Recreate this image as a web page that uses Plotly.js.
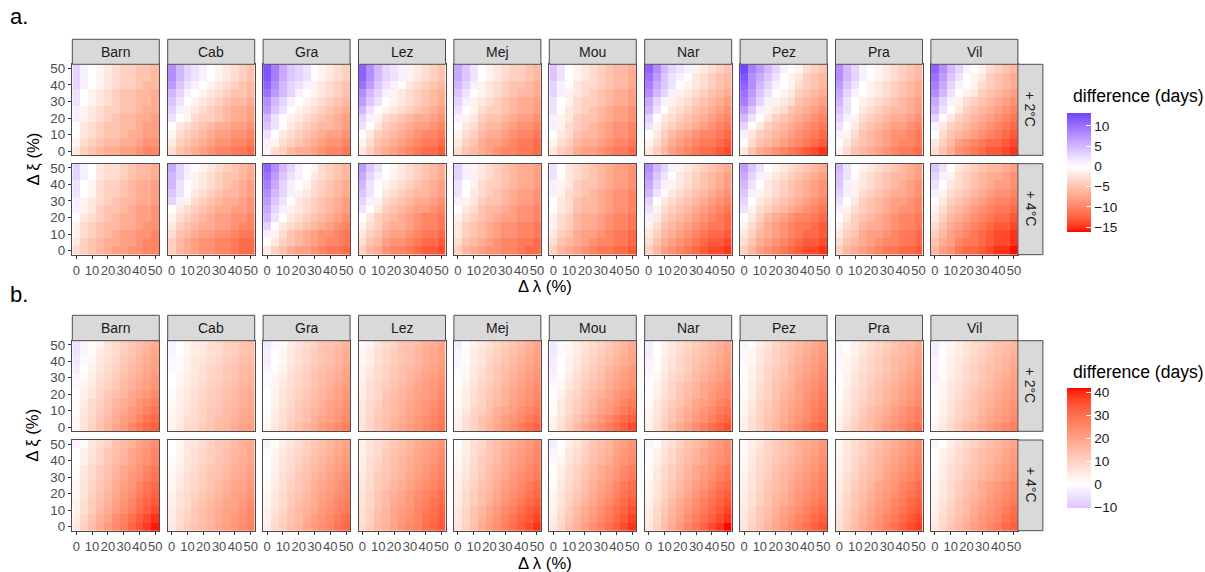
<!DOCTYPE html>
<html>
<head>
<meta charset="utf-8">
<script src="https://cdn.plot.ly/plotly-3.0.1.min.js"></script>
<style>html,body{margin:0;padding:0;background:#fff;}#chart{width:1205px;height:572px;}</style>
</head>
<body>
<div id="chart"></div>
<script>
// ---------------- DATA ----------------
const sites = ['Barn','Cab','Gra','Lez','Mej','Mou','Nar','Pez','Pra','Vil'];
const warming = ['+ 2°C','+ 4°C'];
const lambdaPct = [0,5,10,15,20,25,30,35,40,45,50];
const xiPct = [50,45,40,35,30,25,20,15,10,5,0];   // rows listed top (50) to bottom (0)
const tickVals = [0,10,20,30,40,50];
const tickText = ['0','10','20','30','40','50'];
const legendTicksA = [10,5,0,-5,-10,-15];
const legendTicksB = [40,30,20,10,0,-10];
const rangeA = [-16.2, 13.2];
const rangeB = [-10.4, 42];

// ---- figure a, +2°C ----
const a2Barn = [
[3,1,0,-1,-2,-3,-4,-4,-5,-5,-6],[3,1,0,-1,-2,-3,-4,-4,-5,-5,-6],[3,1,0,-1,-2,-3,-4,-4,-5,-6,-6],
[2,0,-1,-2,-3,-4,-5,-5,-6,-6,-7],[2,0,-1,-2,-3,-4,-5,-5,-6,-6,-7],[1,-1,-2,-3,-4,-4,-5,-5,-6,-7,-7],
[1,-1,-2,-3,-4,-5,-6,-6,-7,-7,-8],[0,-2,-3,-4,-5,-5,-6,-6,-7,-8,-8],[0,-2,-3,-4,-5,-5,-6,-7,-7,-8,-8],
[-1,-3,-4,-5,-6,-6,-7,-7,-8,-9,-9],[-2,-4,-5,-6,-7,-7,-8,-8,-9,-10,-10]];
const a2Cab = [
[8,5,3,2,1,0,-1,-2,-3,-4,-5],[8,5,3,2,1,0,-1,-2,-3,-4,-5],[7,4,2,1,0,-1,-2,-3,-4,-5,-6],
[5,3,1,0,-1,-2,-3,-4,-5,-5,-6],[4,2,0,-1,-2,-3,-4,-5,-6,-6,-7],[3,1,-1,-2,-3,-4,-5,-6,-7,-7,-8],
[2,0,-1,-3,-4,-4,-5,-6,-7,-7,-8],[0,-2,-3,-4,-5,-6,-7,-7,-8,-8,-9],[-1,-3,-4,-5,-6,-7,-8,-8,-9,-9,-10],
[-2,-4,-5,-6,-7,-8,-9,-9,-10,-10,-11],[-3,-5,-6,-7,-8,-9,-10,-10,-11,-11,-12]];
const a2Gra = [
[12,9,6,4,3,2,0,-1,-2,-3,-4],[12,9,6,4,3,2,0,-1,-2,-3,-4],[11,8,5,3,2,1,-1,-2,-3,-4,-5],
[10,7,5,3,1,0,-1,-2,-3,-4,-5],[8,5,3,1,0,-1,-2,-3,-4,-5,-6],[7,4,2,0,-1,-2,-3,-4,-5,-6,-7],
[5,2,0,-1,-2,-3,-4,-5,-6,-7,-8],[4,2,0,-2,-3,-4,-5,-6,-6,-7,-8],[2,0,-2,-3,-4,-5,-6,-7,-8,-8,-9],
[1,-1,-3,-4,-5,-6,-7,-8,-9,-9,-10],[-1,-3,-4,-6,-7,-7,-8,-9,-10,-10,-11]];
const a2Lez = [
[11,8,5,3,2,1,-1,-2,-3,-4,-5],[11,8,5,3,2,1,-1,-2,-3,-4,-5],[10,7,4,2,1,0,-2,-3,-4,-5,-6],
[8,5,3,1,-1,-2,-3,-4,-5,-6,-7],[7,4,2,0,-1,-2,-3,-4,-5,-6,-7],[5,2,0,-1,-2,-3,-4,-5,-6,-7,-8],
[3,1,-1,-3,-4,-5,-6,-7,-7,-8,-9],[2,0,-2,-4,-5,-6,-7,-8,-8,-9,-10],[0,-2,-4,-5,-6,-7,-8,-9,-10,-10,-11],
[-1,-3,-5,-6,-7,-8,-9,-10,-11,-11,-12],[-2,-4,-6,-7,-8,-9,-10,-11,-12,-12,-13]];
const a2Mej = [
[6,4,2,0,-1,-2,-3,-4,-4,-5,-6],[6,4,2,0,-1,-2,-3,-4,-4,-5,-6],[5,3,1,-1,-2,-3,-4,-5,-5,-6,-7],
[4,2,0,-1,-2,-3,-4,-5,-6,-6,-7],[3,1,-1,-2,-3,-4,-5,-6,-7,-7,-8],[2,0,-1,-3,-4,-4,-5,-6,-7,-7,-8],
[1,-1,-2,-4,-5,-5,-6,-7,-8,-8,-9],[0,-2,-3,-5,-6,-6,-7,-8,-9,-9,-10],[-1,-3,-4,-6,-7,-7,-8,-9,-10,-10,-11],
[-2,-4,-5,-7,-8,-8,-9,-10,-11,-11,-12],[-3,-5,-6,-7,-8,-9,-10,-10,-11,-11,-12]];
const a2Mou = [
[4,2,0,-1,-2,-3,-4,-5,-6,-6,-7],[4,2,0,-1,-2,-3,-4,-5,-6,-6,-7],[3,1,0,-2,-3,-3,-4,-5,-6,-6,-7],
[3,1,-1,-2,-3,-4,-5,-6,-7,-7,-8],[2,0,-1,-3,-4,-4,-5,-6,-7,-7,-8],[2,0,-2,-3,-4,-5,-6,-7,-8,-8,-9],
[1,-1,-2,-4,-5,-5,-6,-7,-8,-8,-9],[1,-1,-3,-4,-5,-6,-7,-8,-9,-9,-10],[0,-2,-3,-5,-6,-6,-7,-8,-9,-9,-10],
[-1,-3,-4,-6,-7,-7,-8,-9,-10,-10,-11],[-2,-4,-5,-7,-8,-8,-9,-10,-11,-11,-12]];
const a2Nar = [
[11,8,5,3,2,1,-1,-2,-3,-4,-5],[10,7,4,2,1,0,-2,-3,-4,-5,-6],[9,6,4,2,0,-1,-2,-3,-4,-5,-6],
[8,5,3,1,-1,-2,-3,-4,-5,-6,-7],[6,3,1,-1,-2,-3,-4,-5,-6,-7,-8],[5,2,0,-2,-3,-4,-5,-6,-7,-8,-9],
[3,0,-2,-3,-4,-5,-6,-7,-8,-9,-10],[2,-1,-3,-4,-5,-6,-7,-8,-9,-10,-11],[0,-2,-4,-6,-7,-8,-9,-10,-10,-11,-12],
[-1,-3,-5,-7,-8,-9,-10,-11,-11,-12,-13],[-2,-4,-6,-8,-9,-10,-11,-12,-12,-13,-14]];
const a2Pez = [
[13,9,7,5,3,1,0,-1,-3,-4,-5],[12,8,6,4,2,0,-1,-2,-4,-5,-6],[11,8,5,3,1,0,-1,-3,-4,-5,-6],
[10,7,4,2,0,-1,-2,-4,-5,-6,-7],[9,6,3,1,-1,-2,-3,-5,-6,-7,-8],[7,4,1,-1,-2,-3,-5,-6,-7,-8,-9],
[5,2,0,-2,-4,-5,-6,-7,-8,-9,-10],[3,0,-2,-4,-5,-6,-7,-8,-9,-10,-11],[1,-2,-4,-5,-6,-7,-8,-9,-10,-11,-12],
[0,-3,-5,-6,-7,-8,-9,-10,-11,-12,-13],[-2,-5,-7,-8,-9,-10,-11,-12,-13,-14,-15]];
const a2Pra = [
[8,5,3,1,0,-1,-2,-3,-4,-5,-6],[8,5,3,1,0,-1,-2,-3,-4,-5,-6],[7,4,2,0,-1,-2,-3,-4,-5,-6,-7],
[6,3,1,0,-1,-2,-3,-4,-5,-6,-7],[5,2,0,-1,-2,-3,-4,-5,-6,-7,-8],[4,2,0,-2,-3,-4,-5,-6,-6,-7,-8],
[3,1,-1,-3,-4,-5,-6,-7,-7,-8,-9],[2,0,-2,-4,-5,-6,-7,-8,-8,-9,-10],[1,-1,-3,-5,-6,-7,-8,-9,-9,-10,-11],
[0,-2,-4,-5,-6,-7,-8,-9,-10,-10,-11],[-1,-3,-5,-6,-7,-8,-9,-10,-11,-11,-12]];
const a2Vil = [
[11,8,5,3,1,0,-1,-3,-4,-5,-6],[10,7,4,2,0,-1,-2,-4,-5,-6,-7],[9,6,3,1,0,-1,-3,-4,-5,-6,-7],
[8,5,2,0,-1,-2,-4,-5,-6,-7,-8],[6,3,1,-1,-3,-4,-5,-6,-7,-8,-9],[5,2,0,-2,-4,-5,-6,-7,-8,-9,-10],
[3,0,-2,-4,-5,-6,-7,-8,-9,-10,-11],[1,-2,-4,-5,-6,-7,-8,-9,-10,-11,-12],[0,-3,-5,-6,-7,-8,-9,-10,-11,-12,-13],
[-2,-4,-6,-8,-9,-10,-11,-12,-12,-13,-14],[-3,-5,-7,-9,-10,-11,-12,-13,-13,-14,-15]];

// ---- figure a, +4°C ----
const a4Barn = [
[3,1,0,-2,-3,-3,-4,-5,-6,-6,-7],[3,1,0,-2,-3,-3,-4,-5,-6,-6,-7],[2,0,-1,-3,-4,-4,-5,-6,-7,-7,-8],
[2,0,-1,-3,-4,-4,-5,-6,-7,-7,-8],[1,-1,-2,-3,-4,-5,-6,-6,-7,-7,-8],[1,-1,-2,-4,-5,-5,-6,-7,-8,-8,-9],
[0,-2,-3,-4,-5,-6,-7,-7,-8,-8,-9],[-1,-3,-4,-5,-6,-6,-7,-7,-8,-9,-9],[-1,-3,-4,-5,-6,-7,-8,-8,-9,-9,-10],
[-2,-4,-5,-6,-7,-7,-8,-8,-9,-10,-10],[-3,-4,-5,-6,-7,-8,-8,-9,-9,-10,-10]];
const a4Cab = [
[6,3,1,0,-1,-2,-3,-4,-5,-6,-7],[5,3,1,-1,-2,-3,-4,-5,-5,-6,-7],[5,2,0,-1,-2,-3,-4,-5,-6,-7,-8],
[4,2,0,-2,-3,-4,-5,-6,-6,-7,-8],[3,1,-1,-3,-4,-5,-6,-7,-7,-8,-9],[0,-2,-3,-4,-5,-6,-7,-7,-8,-8,-9],
[-1,-3,-4,-5,-6,-7,-8,-8,-9,-9,-10],[-2,-4,-5,-6,-7,-7,-8,-8,-9,-10,-10],[-3,-5,-6,-7,-8,-8,-9,-9,-10,-11,-11],
[-4,-6,-7,-8,-9,-9,-10,-10,-11,-12,-12],[-4,-6,-7,-8,-9,-9,-10,-10,-11,-12,-12]];
const a4Gra = [
[11,8,5,3,1,0,-1,-3,-4,-5,-6],[10,7,4,2,1,0,-2,-3,-4,-5,-6],[9,6,3,1,0,-1,-3,-4,-5,-6,-7],
[8,5,3,1,-1,-2,-3,-4,-5,-6,-7],[7,4,2,0,-2,-3,-4,-5,-6,-7,-8],[6,3,1,-1,-2,-3,-4,-5,-6,-7,-8],
[5,2,0,-2,-3,-4,-5,-6,-7,-8,-9],[3,0,-2,-3,-4,-5,-6,-7,-8,-9,-10],[1,-1,-3,-5,-6,-7,-8,-9,-9,-10,-11],
[0,-2,-4,-5,-6,-7,-8,-9,-10,-10,-11],[-2,-4,-5,-7,-8,-8,-9,-10,-11,-11,-12]];
const a4Lez = [
[7,4,2,0,-1,-2,-3,-4,-5,-6,-7],[6,3,1,0,-1,-2,-3,-4,-5,-6,-7],[5,2,0,-1,-2,-3,-4,-5,-6,-7,-8],
[4,2,0,-2,-3,-4,-5,-6,-6,-7,-8],[3,1,-1,-3,-4,-5,-6,-7,-7,-8,-9],[2,0,-2,-4,-5,-6,-7,-8,-8,-9,-10],
[0,-2,-4,-5,-6,-7,-8,-9,-10,-10,-11],[-1,-3,-4,-6,-7,-7,-8,-9,-10,-10,-11],[-2,-4,-5,-7,-8,-8,-9,-10,-11,-11,-12],
[-3,-5,-6,-8,-9,-9,-10,-11,-12,-12,-13],[-4,-6,-7,-9,-10,-10,-11,-12,-13,-13,-14]];
const a4Mej = [
[3,1,-1,-2,-3,-4,-5,-6,-7,-7,-8],[3,1,-1,-2,-3,-4,-5,-6,-7,-7,-8],[2,0,-1,-3,-4,-4,-5,-6,-7,-7,-8],
[2,0,-2,-3,-4,-5,-6,-7,-8,-8,-9],[1,-1,-2,-4,-5,-5,-6,-7,-8,-8,-9],[0,-2,-3,-5,-6,-6,-7,-8,-9,-9,-10],
[-1,-3,-4,-5,-6,-7,-8,-8,-9,-9,-10],[-2,-4,-5,-6,-7,-8,-9,-9,-10,-10,-11],[-2,-4,-5,-6,-7,-8,-9,-9,-10,-10,-11],
[-3,-5,-6,-7,-8,-9,-10,-10,-11,-11,-12],[-4,-6,-7,-8,-9,-9,-10,-10,-11,-12,-12]];
const a4Mou = [
[2,0,-2,-3,-4,-5,-6,-7,-8,-8,-9],[2,0,-2,-3,-4,-5,-6,-7,-8,-8,-9],[1,-1,-2,-4,-5,-5,-6,-7,-8,-8,-9],
[1,-1,-3,-4,-5,-6,-7,-8,-9,-9,-10],[0,-2,-3,-5,-6,-6,-7,-8,-9,-9,-10],[0,-2,-3,-5,-6,-6,-7,-8,-9,-9,-10],
[-1,-3,-4,-6,-7,-7,-8,-9,-10,-10,-11],[-1,-3,-4,-6,-7,-7,-8,-9,-10,-10,-11],[-2,-4,-5,-7,-8,-8,-9,-10,-11,-11,-12],
[-3,-5,-6,-7,-8,-9,-10,-10,-11,-11,-12],[-4,-6,-7,-8,-9,-10,-11,-11,-12,-12,-13]];
const a4Nar = [
[8,5,3,1,-1,-2,-3,-4,-5,-6,-7],[7,4,2,0,-2,-3,-4,-5,-6,-7,-8],[6,3,1,-1,-2,-3,-4,-5,-6,-7,-8],
[5,2,0,-2,-3,-4,-5,-6,-7,-8,-9],[3,0,-2,-3,-4,-5,-6,-7,-8,-9,-10],[2,-1,-3,-4,-5,-6,-7,-8,-9,-10,-11],
[1,-2,-4,-5,-6,-7,-8,-9,-10,-11,-12],[-1,-3,-5,-6,-7,-8,-9,-10,-11,-11,-12],[-2,-4,-6,-7,-8,-9,-10,-11,-12,-12,-13],
[-3,-5,-7,-8,-9,-10,-11,-12,-13,-13,-14],[-4,-6,-8,-9,-10,-11,-12,-13,-14,-14,-15]];
const a4Pez = [
[7,4,2,0,-1,-2,-3,-4,-5,-6,-7],[6,3,1,-1,-2,-3,-4,-5,-6,-7,-8],[5,2,0,-2,-3,-4,-5,-6,-7,-8,-9],
[4,1,-1,-2,-3,-4,-5,-6,-7,-8,-9],[3,0,-2,-3,-4,-5,-6,-7,-8,-9,-10],[2,-1,-3,-4,-5,-6,-7,-8,-9,-10,-11],
[0,-2,-4,-6,-7,-8,-9,-10,-10,-11,-12],[-1,-3,-5,-7,-8,-9,-10,-11,-11,-12,-13],[-2,-4,-6,-7,-8,-9,-10,-11,-12,-12,-13],
[-3,-5,-7,-8,-9,-10,-11,-12,-13,-13,-14],[-4,-6,-8,-9,-10,-11,-12,-13,-14,-14,-15]];
const a4Pra = [
[5,2,0,-1,-2,-3,-4,-5,-6,-7,-8],[4,2,0,-2,-3,-4,-5,-6,-6,-7,-8],[4,1,-1,-2,-3,-4,-5,-6,-7,-8,-9],
[3,1,-1,-3,-4,-5,-6,-7,-7,-8,-9],[2,0,-2,-4,-5,-6,-7,-8,-8,-9,-10],[1,-1,-3,-4,-5,-6,-7,-8,-9,-9,-10],
[0,-2,-4,-5,-6,-7,-8,-9,-10,-10,-11],[-1,-3,-4,-6,-7,-7,-8,-9,-10,-10,-11],[-2,-4,-5,-7,-8,-8,-9,-10,-11,-11,-12],
[-3,-5,-6,-7,-8,-9,-10,-10,-11,-11,-12],[-4,-6,-7,-8,-9,-10,-11,-11,-12,-12,-13]];
const a4Vil = [
[4,2,0,-2,-3,-4,-5,-6,-6,-7,-8],[3,1,-1,-3,-4,-5,-6,-7,-7,-8,-9],[2,0,-2,-3,-4,-5,-6,-7,-8,-8,-9],
[1,-1,-3,-4,-5,-6,-7,-8,-9,-9,-10],[0,-2,-4,-5,-6,-7,-8,-9,-10,-10,-11],[-1,-3,-5,-6,-7,-8,-9,-10,-11,-11,-12],
[-2,-4,-6,-7,-8,-9,-10,-11,-12,-12,-13],[-3,-5,-7,-8,-9,-10,-11,-12,-13,-13,-14],[-4,-6,-8,-9,-10,-11,-12,-13,-14,-14,-15],
[-5,-7,-8,-10,-11,-11,-12,-13,-14,-14,-15],[-6,-8,-9,-11,-12,-12,-13,-14,-15,-15,-16]];

// ---- figure b, +2°C ----
const b2Barn = [
[-5,-2,1,3,6,8,10,12,14,16,18],[-5,-2,1,4,6,8,11,13,15,17,19],[-4,-1,2,5,7,9,12,14,16,18,20],
[-3,0,3,6,8,10,13,15,17,19,21],[-2,1,4,7,9,11,14,16,18,20,22],[-1,2,5,8,10,12,15,17,19,21,23],
[0,3,6,9,12,14,16,19,21,23,25],[1,4,8,10,13,16,18,20,23,25,27],[1,5,8,11,14,17,19,22,24,27,29],
[2,6,9,12,15,18,21,23,26,29,31],[2,6,10,13,16,19,22,25,28,31,33]];
const b2Cab = [
[-2,0,2,4,5,7,8,10,11,13,14],[-2,0,2,4,5,7,8,10,11,13,14],[-1,1,3,5,6,8,9,11,12,14,15],
[-1,1,3,5,7,9,10,12,13,15,16],[0,2,4,6,7,9,10,12,13,15,16],[0,2,4,6,8,10,11,13,14,16,17],
[1,3,5,7,9,11,12,14,15,17,18],[1,3,5,7,9,11,12,14,15,17,18],[2,4,6,8,10,12,13,15,16,18,19],
[2,4,7,8,10,12,14,15,17,19,20],[3,5,8,9,11,13,15,16,18,20,21]];
const b2Gra = [
[-4,-1,1,4,6,8,10,12,13,15,17],[-3,0,2,5,7,9,11,13,14,16,18],[-3,0,2,5,7,9,11,13,14,16,18],
[-2,1,3,6,8,10,12,14,15,17,19],[-1,2,4,7,9,11,13,15,16,18,20],[-1,2,5,7,9,11,13,15,17,19,21],
[0,3,6,8,10,12,14,16,18,20,22],[0,3,6,8,11,13,15,17,19,21,23],[1,4,7,9,12,14,16,18,20,22,24],
[1,4,7,10,12,14,17,19,21,23,25],[2,5,8,11,14,16,18,21,23,25,27]];
const b2Lez = [
[1,3,6,8,10,12,13,15,17,18,20],[2,4,7,9,11,13,14,16,18,19,21],[2,4,7,9,11,13,14,16,18,19,21],
[3,5,8,10,12,14,15,17,19,20,22],[3,6,8,10,12,14,16,18,20,21,23],[4,7,9,11,13,15,17,19,21,22,24],
[4,7,9,12,14,16,18,20,21,23,25],[5,8,10,13,15,17,19,21,22,24,26],[5,8,11,13,15,17,19,21,23,25,27],
[6,9,12,14,16,18,20,22,24,26,28],[6,9,12,14,17,19,21,23,25,27,29]];
const b2Mej = [
[-3,0,3,5,7,9,11,13,15,17,19],[-2,1,4,6,8,10,12,14,16,18,20],[-2,1,4,6,9,11,13,15,17,19,21],
[-1,2,5,7,10,12,14,16,18,20,22],[-1,2,5,8,10,12,15,17,19,21,23],[0,3,6,9,11,13,16,18,20,22,24],
[1,4,7,10,12,14,17,19,21,23,25],[1,4,7,10,13,15,17,20,22,24,26],[2,5,9,11,14,17,19,21,24,26,28],
[3,7,10,13,15,18,21,23,25,28,30],[3,7,10,13,16,19,22,24,27,30,32]];
const b2Mou = [
[-4,-1,2,4,6,8,10,12,14,16,18],[-4,-1,2,4,7,9,11,13,15,17,19],[-3,0,3,5,8,10,12,14,16,18,20],
[-3,0,3,6,9,11,13,16,18,20,22],[-2,1,4,7,10,12,14,17,19,21,23],[-1,2,5,8,11,13,15,18,20,22,24],
[0,3,7,9,12,15,17,19,22,24,26],[1,5,8,11,13,16,19,21,23,26,28],[1,5,8,11,14,17,20,22,25,28,30],
[2,6,10,13,16,19,22,25,28,31,33],[3,7,11,15,18,21,24,27,30,33,36]];
const b2Nar = [
[-3,0,3,5,7,9,11,13,15,17,19],[-3,0,3,5,8,10,12,14,16,18,20],[-2,1,4,6,9,11,13,15,17,19,21],
[-2,1,4,7,9,11,14,16,18,20,22],[-1,2,5,8,10,12,15,17,19,21,23],[0,3,6,9,12,14,16,19,21,23,25],
[0,3,7,9,12,15,17,19,22,24,26],[1,5,8,11,13,16,19,21,23,26,28],[2,6,9,12,15,18,20,23,25,28,30],
[2,6,10,13,16,19,22,24,27,30,32],[3,7,11,15,18,21,24,27,30,32,35]];
const b2Pez = [
[-2,1,4,6,9,11,13,15,17,19,21],[-1,2,5,7,10,12,14,16,18,20,22],[-1,2,5,8,10,12,15,17,19,21,23],
[0,3,6,9,11,13,16,18,20,22,24],[0,3,6,9,12,14,16,19,21,23,25],[1,4,7,10,13,15,17,20,22,24,26],
[1,4,8,10,13,16,18,20,23,25,27],[2,5,9,11,14,17,19,21,24,26,28],[2,6,9,12,14,17,20,22,24,27,29],
[3,7,10,13,15,18,21,23,25,28,30],[3,7,10,13,16,19,22,24,27,30,32]];
const b2Pra = [
[-2,1,3,5,7,9,11,13,15,16,18],[-2,1,3,6,8,10,12,14,15,17,19],[-1,2,4,7,9,11,13,15,16,18,20],
[-1,2,5,7,9,11,13,15,17,19,21],[0,3,6,8,10,12,14,16,18,20,22],[0,3,6,8,11,13,15,17,19,21,23],
[1,4,7,9,12,14,16,18,20,22,24],[1,4,7,10,12,14,17,19,21,23,25],[2,5,8,11,14,16,18,21,23,25,27],
[3,6,9,12,15,17,19,22,24,26,28],[3,7,10,13,15,18,21,23,25,28,30]];
const b2Vil = [
[-3,-1,2,4,6,8,9,11,13,14,16],[-3,0,2,4,6,8,10,12,14,15,17],[-2,1,3,5,7,9,11,13,15,16,18],
[-2,1,3,6,8,10,12,14,15,17,19],[-2,1,4,6,8,10,12,14,16,18,20],[-1,2,5,7,9,11,13,15,17,19,21],
[-1,2,5,7,10,12,14,16,18,20,22],[0,3,6,8,11,13,15,17,19,21,23],[0,3,6,9,11,13,16,18,20,22,24],
[1,4,7,10,12,14,17,19,21,23,25],[2,5,8,11,14,16,18,21,23,25,27]];

// ---- figure b, +4°C ----
const b4Barn = [
[-2,1,5,7,10,13,15,17,20,22,24],[0,3,6,9,12,14,16,19,21,23,25],[0,3,7,9,12,15,17,19,22,24,26],
[1,5,8,11,13,16,19,21,23,26,28],[1,5,8,11,14,17,19,22,24,27,29],[2,6,9,12,15,18,21,23,26,29,31],
[2,6,10,13,16,19,22,24,27,30,32],[3,7,11,14,17,20,23,26,29,32,34],[3,7,11,15,18,21,24,27,30,33,36],
[4,9,13,17,20,24,27,30,33,36,39],[5,10,14,18,22,25,28,32,35,38,41]];
const b4Cab = [
[0,2,5,6,8,10,12,13,15,17,18],[0,2,5,7,9,11,12,14,16,17,19],[1,3,6,7,9,11,13,14,16,18,19],
[1,3,6,8,10,12,13,15,17,18,20],[2,4,7,9,11,13,14,16,18,19,21],[2,5,7,9,11,13,15,17,19,20,22],
[3,6,8,10,12,14,16,18,20,21,23],[3,6,8,11,13,15,17,19,20,22,24],[4,7,9,12,14,16,18,20,21,23,25],
[4,7,10,12,14,16,18,20,22,24,26],[5,8,11,13,15,17,19,21,23,25,27]];
const b4Gra = [
[-2,1,4,6,8,10,12,14,16,18,20],[-1,2,5,7,9,11,13,15,17,19,21],[0,3,6,8,10,12,14,16,18,20,22],
[0,3,6,8,11,13,15,17,19,21,23],[1,4,7,9,12,14,16,18,20,22,24],[1,4,7,10,12,14,17,19,21,23,25],
[2,5,8,11,13,15,18,20,22,24,26],[2,5,8,11,14,16,18,21,23,25,27],[3,6,9,12,15,17,19,22,24,26,28],
[3,7,10,13,15,18,21,23,25,28,30],[4,8,11,14,16,19,22,24,26,29,31]];
const b4Lez = [
[3,6,8,10,12,14,16,18,20,21,23],[3,6,8,11,13,15,17,19,20,22,24],[4,7,9,12,14,16,18,20,21,23,25],
[4,7,10,12,14,16,18,20,22,24,26],[5,8,11,13,15,17,19,21,23,25,27],[5,8,11,13,16,18,20,22,24,26,28],
[6,9,12,15,17,19,22,24,26,28,30],[6,9,12,15,18,20,22,25,27,29,31],[7,10,13,16,19,21,23,26,28,30,32],
[7,10,14,16,19,22,24,26,29,31,33],[8,11,15,17,20,23,25,27,30,32,34]];
const b4Mej = [
[1,4,7,9,12,14,16,18,20,22,24],[1,4,7,10,12,14,17,19,21,23,25],[2,5,8,11,13,15,18,20,22,24,26],
[2,5,8,11,14,16,18,21,23,25,27],[3,6,9,12,15,17,19,22,24,26,28],[3,7,10,13,15,18,21,23,25,28,30],
[4,8,11,14,16,19,22,24,26,29,31],[4,8,11,14,17,20,23,25,28,31,33],[5,9,13,16,19,22,25,27,30,33,35],
[5,9,13,17,20,23,26,29,32,34,37],[6,10,14,18,21,24,27,30,33,36,39]];
const b4Mou = [
[-3,0,4,6,9,12,14,16,19,21,23],[-2,1,5,7,10,13,15,17,20,22,24],[-1,2,6,8,11,14,16,18,21,23,25],
[0,4,7,10,12,15,18,20,22,25,27],[0,4,7,10,13,16,18,21,23,26,28],[1,5,8,11,14,17,20,22,25,28,30],
[2,6,9,12,15,18,21,23,26,29,31],[2,6,10,13,16,19,22,25,28,31,33],[3,7,11,15,18,21,24,27,30,32,35],
[4,8,12,16,19,22,25,28,31,34,37],[5,9,14,17,21,24,27,30,33,36,39]];
const b4Nar = [
[-2,1,5,7,10,13,15,17,20,22,24],[0,3,6,9,12,14,16,19,21,23,25],[0,3,7,9,12,15,17,19,22,24,26],
[1,5,8,11,13,16,19,21,23,26,28],[1,5,8,11,14,17,19,22,24,27,29],[2,6,9,12,15,18,21,23,26,29,31],
[2,6,10,13,16,19,22,25,28,31,33],[3,7,11,15,18,21,24,27,30,32,35],[4,8,12,16,19,22,25,28,31,34,37],
[4,9,13,17,20,24,27,30,33,36,39],[5,10,14,18,22,26,29,32,36,39,42]];
const b4Pez = [
[1,4,6,9,11,13,15,17,18,20,22],[1,4,7,9,11,13,15,17,19,21,23],[2,5,8,10,12,14,16,18,20,22,24],
[2,5,8,10,13,15,17,19,21,23,25],[3,6,9,11,14,16,18,20,22,24,26],[3,6,9,12,14,16,19,21,23,25,27],
[4,7,10,13,15,17,20,22,24,26,28],[4,7,10,13,16,18,20,23,25,27,29],[5,8,12,14,17,20,22,24,27,29,31],
[5,9,12,15,18,21,23,26,28,31,33],[6,10,13,16,19,22,25,27,30,33,35]];
const b4Pra = [
[2,5,8,10,12,14,16,18,20,22,24],[2,5,8,10,13,15,17,19,21,23,25],[3,6,9,11,14,16,18,20,22,24,26],
[3,6,9,12,14,16,19,21,23,25,27],[4,7,10,13,15,17,20,22,24,26,28],[4,7,11,13,16,19,21,23,26,28,30],
[5,8,12,14,17,20,22,24,27,29,31],[5,9,12,15,18,21,23,26,28,31,33],[6,10,13,16,19,22,24,27,29,32,34],
[6,10,14,17,20,23,26,28,31,34,36],[7,11,15,18,21,24,27,30,33,36,38]];
const b4Vil = [
[-2,1,4,6,8,10,12,14,16,18,20],[0,3,5,8,10,12,14,16,17,19,21],[0,3,6,8,10,12,14,16,18,20,22],
[1,4,7,9,11,13,15,17,19,21,23],[1,4,7,9,12,14,16,18,20,22,24],[2,5,8,11,13,15,18,20,22,24,26],
[2,5,8,11,14,16,18,21,23,25,27],[3,6,9,12,15,17,19,22,24,26,28],[3,7,10,13,15,18,21,23,25,28,30],
[4,8,11,14,16,19,22,24,26,29,31],[5,9,12,15,18,21,23,26,28,31,33]];

const figA = [[a2Barn,a2Cab,a2Gra,a2Lez,a2Mej,a2Mou,a2Nar,a2Pez,a2Pra,a2Vil],
              [a4Barn,a4Cab,a4Gra,a4Lez,a4Mej,a4Mou,a4Nar,a4Pez,a4Pra,a4Vil]];
const figB = [[b2Barn,b2Cab,b2Gra,b2Lez,b2Mej,b2Mou,b2Nar,b2Pez,b2Pra,b2Vil],
              [b4Barn,b4Cab,b4Gra,b4Lez,b4Mej,b4Mou,b4Nar,b4Pez,b4Pra,b4Vil]];

// ---------------- COLOUR (ggplot scale_fill_gradient2, Lab interpolation) ----------------
function s2l(c){c/=255;return c<=0.04045?c/12.92:Math.pow((c+0.055)/1.055,2.4);}
function l2s(c){c=Math.max(0,Math.min(1,c));return c<=0.0031308?12.92*c:1.055*Math.pow(c,1/2.4)-0.055;}
function toLab(rgb){
  const R=s2l(rgb[0]),G=s2l(rgb[1]),B=s2l(rgb[2]);
  const X=(0.4124*R+0.3576*G+0.1805*B)/0.95047,Y=(0.2126*R+0.7152*G+0.0722*B),Z=(0.0193*R+0.1192*G+0.9505*B)/1.08883;
  const f=t=>t>0.008856?Math.cbrt(t):7.787*t+16/116;
  const fx=f(X),fy=f(Y),fz=f(Z);
  return [116*fy-16,500*(fx-fy),200*(fy-fz)];
}
function fromLab(lab){
  const fy=(lab[0]+16)/116,fx=fy+lab[1]/500,fz=fy-lab[2]/200;
  const fi=t=>t*t*t>0.008856?t*t*t:(t-16/116)/7.787;
  const X=fi(fx)*0.95047,Y=fi(fy),Z=fi(fz)*1.08883;
  const R=3.2406*X-1.5372*Y-0.4986*Z,G=-0.9689*X+1.8758*Y+0.0415*Z,B=0.0557*X-0.2040*Y+1.0570*Z;
  return 'rgb('+[R,G,B].map(v=>Math.round(l2s(v)*255)).join(',')+')';
}
function makeScale(low,high,lo,hi){
  const L=toLab(low),M=toLab([255,255,255]),Hh=toLab(high);
  const m=Math.max(Math.abs(lo),Math.abs(hi));
  const out=[];
  for(let i=0;i<=40;i++){
    const p=i/40, v=lo+p*(hi-lo), t=0.5+v/(2*m);
    let a,b,u;
    if(t<0.5){a=L;b=M;u=t/0.5;} else {a=M;b=Hh;u=(t-0.5)/0.5;}
    out.push([p,fromLab([a[0]+(b[0]-a[0])*u,a[1]+(b[1]-a[1])*u,a[2]+(b[2]-a[2])*u])]);
  }
  return out;
}
const RED=[255,0,0], BLUE=[0,0,255];

// ---------------- LAYOUT GEOMETRY ----------------
const W=1205,H=572;
const X=v=>v/W, Y=v=>1-v/H;
const FONT='Liberation Sans, Arial, Helvetica, sans-serif';
const colL=i=>72.3+95.4*i, PW=87;
const figs=[
  {data:figA, ca:'coloraxis', stripTop:39.3, rows:[[64.3,155.3],[163.7,254.7]], label:'a.', labelY:17, xtitleY:286.5},
  {data:figB, ca:'coloraxis2', stripTop:315.3, rows:[[340.7,431.3],[440,530.7]], label:'b.', labelY:294, xtitleY:563}
];
const traces=[], shapes=[], annotations=[];
const layout={width:W,height:H,margin:{l:0,r:0,t:0,b:0,autoexpand:false},paper_bgcolor:'#fff',plot_bgcolor:'#fff',
  font:{family:FONT,color:'#1a1a1a'},showlegend:false};
let n=0;
figs.forEach((f,fi)=>{
  f.rows.forEach((r,ri)=>{
    sites.forEach((s,ci)=>{
      n++;
      const sx=n===1?'':String(n);
      const x0=colL(ci), x1=x0+PW;
      traces.push({type:'heatmap',x:lambdaPct,y:xiPct,z:f.data[ri][ci],coloraxis:f.ca,
        xaxis:'x'+sx,yaxis:'y'+sx,hoverinfo:'skip',zsmooth:false});
      const bottom=ri===1, left=ci===0;
      layout['xaxis'+sx]={domain:[X(x0),X(x1)],anchor:'y'+sx,range:[-2.5,52.5],showgrid:false,zeroline:false,
        showline:true,mirror:true,linecolor:'#4d4d4d',linewidth:1,
        ticks:bottom?'outside':'',ticklen:3.5,tickwidth:1,tickcolor:'#333',tickvals:tickVals,ticktext:tickText,
        tickangle:0,showticklabels:bottom,tickfont:{family:FONT,size:13,color:'#4d4d4d'},fixedrange:true};
      layout['yaxis'+sx]={domain:[Y(r[1]),Y(r[0])],anchor:'x'+sx,range:[-2.5,52.5],showgrid:false,zeroline:false,
        showline:true,mirror:true,linecolor:'#4d4d4d',linewidth:1,
        ticks:left?'outside':'',ticklen:3.5,tickwidth:1,tickcolor:'#333',tickvals:tickVals,ticktext:tickText,
        tickangle:0,showticklabels:left,tickfont:{family:FONT,size:13.4,color:'#4d4d4d'},fixedrange:true};
      if(ri===0){
        shapes.push({type:'rect',xref:'paper',yref:'paper',x0:X(x0),x1:X(x1),y0:Y(r[0]),y1:Y(f.stripTop),
          fillcolor:'#d9d9d9',line:{color:'#4d4d4d',width:1}});
        annotations.push({xref:'paper',yref:'paper',x:X((x0+x1)/2),y:Y((r[0]+f.stripTop)/2),text:s,showarrow:false,
          xanchor:'center',yanchor:'middle',font:{family:FONT,size:14,color:'#1a1a1a'}});
      }
    });
    // right strip
    const rx0=colL(9)+PW, rx1=rx0+25;
    shapes.push({type:'rect',xref:'paper',yref:'paper',x0:X(rx0),x1:X(rx1),y0:Y(r[1]),y1:Y(r[0]),
      fillcolor:'#d9d9d9',line:{color:'#4d4d4d',width:1}});
    annotations.push({xref:'paper',yref:'paper',x:X((rx0+rx1)/2),y:Y((r[0]+r[1])/2),text:warming[ri],showarrow:false,
      textangle:90,xanchor:'center',yanchor:'middle',font:{family:FONT,size:14,color:'#1a1a1a'}});
  });
  // titles
  const midX=(colL(0)+colL(9)+PW)/2;
  annotations.push({xref:'paper',yref:'paper',x:X(midX),y:Y(f.xtitleY),text:'Δ λ (%)',showarrow:false,
    xanchor:'center',yanchor:'middle',font:{family:FONT,size:16.7,color:'#000'}});
  annotations.push({xref:'paper',yref:'paper',x:X(33),y:Y((f.rows[0][0]+f.rows[1][1])/2),text:'Δ ξ (%)',showarrow:false,
    textangle:-90,xanchor:'center',yanchor:'middle',font:{family:FONT,size:16.7,color:'#000'}});
  annotations.push({xref:'paper',yref:'paper',x:X(8),y:Y(f.labelY),text:f.label,showarrow:false,
    xanchor:'left',yanchor:'middle',font:{family:FONT,size:22,color:'#000'}});
});

// colour axes + legends
function cbar(top,bottom,ticks){
  return {x:X(1067),xanchor:'left',xpad:0,ypad:0,y:Y((top+bottom)/2),yanchor:'middle',
    len:bottom-top,lenmode:'pixels',thickness:24,thicknessmode:'pixels',outlinewidth:0,
    ticks:'inside',ticklen:5,tickcolor:'#fff',tickwidth:1,tickvals:ticks,ticklabelpad:6,
    tickfont:{family:FONT,size:13.6,color:'#1a1a1a'},title:{text:''}};
}
function leftTicks(top,bottom,rng,ticks){
  ticks.forEach(v=>{
    const yy=top+(rng[1]-v)/(rng[1]-rng[0])*(bottom-top);
    shapes.push({type:'line',xref:'paper',yref:'paper',x0:X(1067),x1:X(1072),y0:Y(yy),y1:Y(yy),
      line:{color:'#fff',width:1}});
  });
}
layout.coloraxis={cmin:rangeA[0],cmax:rangeA[1],colorscale:makeScale(RED,BLUE,rangeA[0],rangeA[1]),
  colorbar:cbar(113,232,legendTicksA)};
layout.coloraxis2={cmin:rangeB[0],cmax:rangeB[1],colorscale:makeScale(BLUE,RED,rangeB[0],rangeB[1]),
  colorbar:cbar(388,508,legendTicksB)};
leftTicks(113,232,rangeA,legendTicksA);
leftTicks(388,508,rangeB,legendTicksB);
annotations.push({xref:'paper',yref:'paper',x:X(1071),y:Y(96),text:'difference (days)',showarrow:false,
  xanchor:'left',yanchor:'middle',font:{family:FONT,size:17.6,color:'#000'}});
annotations.push({xref:'paper',yref:'paper',x:X(1071),y:Y(372),text:'difference (days)',showarrow:false,
  xanchor:'left',yanchor:'middle',font:{family:FONT,size:17.6,color:'#000'}});
layout.shapes=shapes; layout.annotations=annotations;
Plotly.newPlot('chart',traces,layout,{staticPlot:true,displayModeBar:false});
</script>
</body>
</html>
